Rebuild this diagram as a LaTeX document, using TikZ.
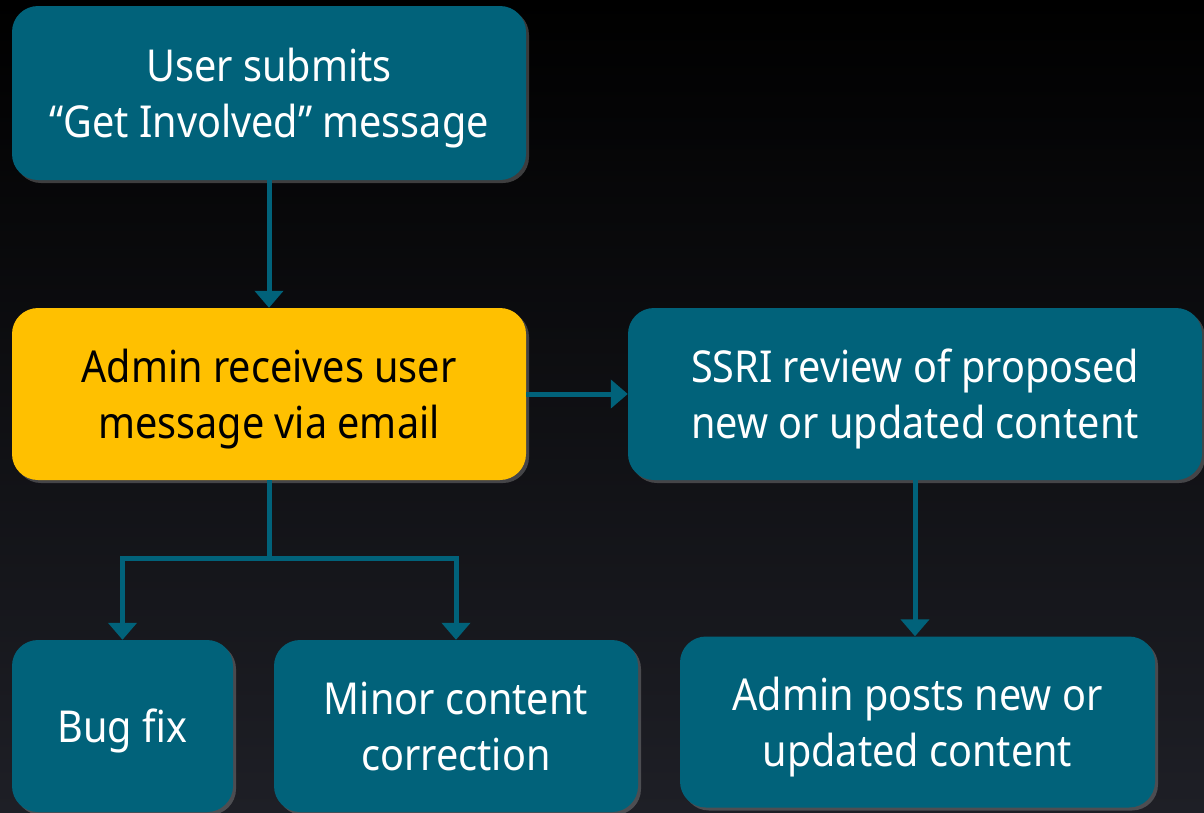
\documentclass[tikz,border=0pt]{standalone}
\usepackage{fontspec}
\setmainfont[FakeStretch=0.90]{Noto Sans}
\usetikzlibrary{arrows.meta,shadows}
\definecolor{tealbox}{RGB}{1,98,122}
\definecolor{goldbox}{RGB}{255,192,0}
\definecolor{bgtop}{RGB}{0,0,0}
\definecolor{bgbot}{RGB}{30,31,38}
\newcommand\topstrut{\rule{0pt}{44pt}}
\newcommand\botstrut{\rule[-12pt]{0pt}{12pt}}
\tikzset{
  box/.style={rounded corners=26pt, fill=tealbox, text=white, align=center,
    font=\fontsize{44}{56}\selectfont, inner sep=0pt,
    general shadow={fill=gray!70, opacity=0.35, shadow xshift=3pt, shadow yshift=-3pt}},
  hibox/.style={box, fill=goldbox, text=black},
  conn/.style={draw=tealbox, line width=5pt, -{Triangle[width=28pt,length=17pt]}}
}
\begin{document}
\begin{tikzpicture}[x=1pt,y=-1pt]
\shade[top color=bgtop, bottom color=bgbot] (0,0) rectangle (1204,812);
\useasboundingbox (0,0) rectangle (1204,812);
\node[box, minimum width=514pt, minimum height=174pt] (b1) at (269,93) {\topstrut User submits\\“Get Involved” message\botstrut};
\node[hibox, minimum width=514pt, minimum height=172pt] (b2) at (269,394) {\topstrut Admin receives user\\message via email\botstrut};
\node[box, minimum width=574pt, minimum height=172pt] (b3) at (915,394) {\topstrut SSRI review of proposed\\new or updated content\botstrut};
\node[box, minimum width=221pt, minimum height=172pt] (b4) at (122.5,726) {\topstrut Bug fix\botstrut};
\node[box, minimum width=364pt, minimum height=172pt] (b5) at (456,726) {\topstrut Minor content\\correction\botstrut};
\node[box, minimum width=475pt, minimum height=171pt] (b6) at (917.5,722) {\topstrut Admin posts new or\\updated content\botstrut};
\coordinate (split) at (269,558);
\draw[conn] (b1.south) -- (b2.north);
\draw[conn] (b2.east) -- (b3.west);
\draw[conn] (b2.south) -- (split) -| (b4.north);
\draw[conn] (split) -| (b5.north);
\draw[conn] (b3.south) -- (b3.south |- b6.north);
\end{tikzpicture}
\end{document}
